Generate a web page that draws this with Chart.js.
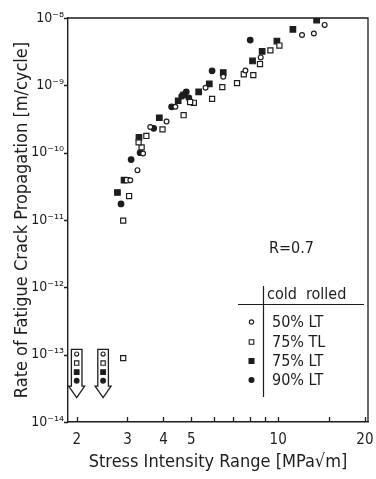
<!DOCTYPE html>
<html>
<head>
<meta charset="utf-8">
<script src="https://cdn.jsdelivr.net/npm/chart.js@4"></script>
<style>
  html, body { margin: 0; padding: 0; background: #fff; }
</style>
</head>
<body>
<canvas id="crackChart" width="376" height="479"></canvas>
<script>
const seriesLabels = ['50% LT', '75% TL', '75% LT', '90% LT'];

// stress intensity range [MPa√m] and crack growth rate [m/cycle]
const k50LT = [14.5, 13.3, 12.1, 8.7, 7.7, 6.45, 5.6, 4.4, 4.1, 3.6, 3.4, 3.25, 3.07];
const rate50LT = [7.9e-9, 5.9e-9, 5.6e-9, 2.6e-9, 1.66e-9, 1.34e-9, 9.2e-10, 4.8e-10, 2.9e-10, 2.4e-10, 9.7e-11, 5.5e-11, 3.9e-11];

const k75TL = [10.1, 9.4, 8.65, 8.2, 7.6, 7.2, 6.4, 5.9, 5.1, 4.95, 4.7, 3.97, 3.49, 3.36, 3.28, 3.04, 2.99, 2.9, 2.9];
const rate75TL = [3.9e-9, 3.3e-9, 2.07e-9, 1.42e-9, 1.46e-9, 1.08e-9, 9.4e-10, 6.3e-10, 5.5e-10, 5.65e-10, 3.6e-10, 2.22e-10, 1.77e-10, 1.2e-10, 1.42e-10, 2.27e-11, 3.9e-11, 9.8e-12, 8.9e-14];

const k75LT = [13.6, 11.25, 9.9, 8.8, 8.15, 6.45, 5.77, 5.3, 4.7, 4.5, 3.87, 3.29, 2.92, 2.77];
const rate75LT = [9.3e-9, 6.8e-9, 4.55e-9, 3.2e-9, 2.3e-9, 1.55e-9, 1.05e-9, 8.0e-10, 7.2e-10, 5.9e-10, 3.3e-10, 1.69e-10, 3.9e-11, 2.56e-11];

const k90LT = [8.0, 5.9, 4.9, 4.8, 4.63, 4.27, 3.7, 3.32, 3.09, 2.85];
const rate90LT = [4.7e-9, 1.64e-9, 6.5e-10, 8.0e-10, 6.9e-10, 4.8e-10, 2.3e-10, 1.0e-10, 7.9e-11, 1.73e-11];

// threshold arrows (no growth measured, below 1e-13)
const arrowK = [2.0, 2.47];
const arrowTop = 1.2e-13, arrowNeck = 3.4e-14, arrowTip = 2.3e-14;
const arrowRates = [1.02e-13, 7.5e-14, 5.5e-14, 4.1e-14];

const xTicks = [2, 3, 4, 5, 6, 7, 8, 9, 10, 15, 20];
const xLabels = [2, 3, 4, 5, 10, 20];
const yTicks = [1e-14, 1e-13, 1e-12, 1e-11, 1e-10, 1e-9, 1e-8];
const yLabels = ['10⁻¹⁴', '10⁻¹³', '10⁻¹²', '10⁻¹¹', '10⁻¹⁰', '10⁻⁹', '10⁻⁸'];

const ink = '#1d1d1d';
const family = '"DejaVu Sans Condensed", "DejaVu Sans", sans-serif';

const marks = [
    { pointStyle: 'circle', radius: 2.4, fill: '#fff' },
    { pointStyle: 'rect', radius: 3.6, fill: '#fff' },
    { pointStyle: 'rect', radius: 3.9, fill: ink },
    { pointStyle: 'circle', radius: 2.8, fill: ink }
];
const ks = [k50LT, k75TL, k75LT, k90LT];
const rates = [rate50LT, rate75TL, rate75LT, rate90LT];

const datasets = [];
seriesLabels.forEach((label, i) => {
    datasets.push({
        label: label,
        data: ks[i].map((k, j) => ({ x: k, y: rates[i][j] })),
        pointStyle: marks[i].pointStyle,
        pointRadius: marks[i].radius,
        pointBackgroundColor: marks[i].fill,
        pointBorderColor: ink,
        pointBorderWidth: 1.2,
        showLine: false
    });
});
// small markers stacked inside the arrows
seriesLabels.forEach((label, i) => {
    datasets.push({
        label: label + ' threshold',
        data: arrowK.map(k => ({ x: k, y: arrowRates[i] })),
        pointStyle: marks[i].pointStyle,
        pointRadius: marks[i].radius * 0.85,
        pointBackgroundColor: marks[i].fill,
        pointBorderColor: ink,
        pointBorderWidth: 1.1,
        showLine: false
    });
});

const decorations = {
    id: 'decorations',
    beforeDatasetsDraw(chart) {
        const { ctx, scales: { x, y } } = chart;
        ctx.save();
        ctx.strokeStyle = ink;
        ctx.fillStyle = '#fff';
        ctx.lineWidth = 1.3;
        arrowK.forEach(k => {
            const cx = x.getPixelForValue(k);
            const top = y.getPixelForValue(arrowTop);
            const neck = y.getPixelForValue(arrowNeck);
            const tip = y.getPixelForValue(arrowTip);
            ctx.beginPath();
            ctx.moveTo(cx - 5.3, top);
            ctx.lineTo(cx + 5.3, top);
            ctx.lineTo(cx + 5.3, neck);
            ctx.lineTo(cx + 8, neck);
            ctx.lineTo(cx, tip);
            ctx.lineTo(cx - 8, neck);
            ctx.lineTo(cx - 5.3, neck);
            ctx.closePath();
            ctx.fill();
            ctx.stroke();
        });
        ctx.restore();
    },
    afterDraw(chart) {
        const { ctx, chartArea: a, scales: { x, y } } = chart;
        ctx.save();
        ctx.strokeStyle = ink;
        ctx.lineWidth = 1.3;
        // top and right frame
        ctx.beginPath();
        ctx.moveTo(a.left, a.top);
        ctx.lineTo(a.right, a.top);
        ctx.lineTo(a.right, a.bottom);
        ctx.stroke();
        // x ticks point inward, y ticks outward
        ctx.beginPath();
        xTicks.forEach(v => {
            const px = Math.round(x.getPixelForValue(v)) + 0.5;
            ctx.moveTo(px, a.bottom);
            ctx.lineTo(px, a.bottom - 5);
        });
        yTicks.forEach(v => {
            const py = Math.round(y.getPixelForValue(v)) + 0.5;
            ctx.moveTo(a.left - 4, py);
            ctx.lineTo(a.left, py);
        });
        ctx.stroke();

        ctx.fillStyle = ink;
        ctx.textBaseline = 'middle';
        ctx.textAlign = 'left';
        ctx.font = '16px ' + family;
        ctx.fillText('R=0.7', 269, 249);

        // legend table
        ctx.lineWidth = 1.2;
        ctx.beginPath();
        ctx.moveTo(263.5, 286);
        ctx.lineTo(263.5, 397);
        ctx.moveTo(238, 304.5);
        ctx.lineTo(364, 304.5);
        ctx.stroke();
        ctx.font = '16px ' + family;
        ctx.fillText('cold  rolled', 267, 295);
        const rows = [322, 342, 361, 380];
        seriesLabels.forEach((label, i) => {
            ctx.fillStyle = marks[i].fill;
            ctx.strokeStyle = ink;
            ctx.lineWidth = 1.1;
            Chart.helpers.drawPoint(ctx, {
                pointStyle: marks[i].pointStyle,
                radius: marks[i].radius * 0.9,
                borderWidth: 1.1,
                rotation: 0
            }, 251.5, rows[i]);
            ctx.fillStyle = ink;
            ctx.fillText(label, 272, rows[i] + 1);
        });
        ctx.restore();
    }
};

new Chart(document.getElementById('crackChart'), {
    type: 'scatter',
    data: { datasets },
    options: {
        responsive: false,
        animation: false,
        layout: { padding: { top: 18, right: 8, left: 0, bottom: 0 } },
        plugins: { legend: { display: false }, tooltip: { enabled: false } },
        scales: {
            x: {
                type: 'logarithmic',
                bounds: 'data',
                min: 1.866,
                max: 20.5,
                afterFit(s) { s.height = 57; s.paddingLeft = 0; s.paddingRight = 0; },
                afterBuildTicks(s) { s.ticks = xTicks.map(v => ({ value: v })); },
                grid: { display: false, drawTicks: false },
                border: { display: true, color: ink, width: 1.4 },
                ticks: {
                    autoSkip: false, maxRotation: 0, padding: 9, color: ink,
                    font: { family, size: 15 },
                    callback: v => xLabels.includes(v) ? String(v) : ''
                },
                title: {
                    display: true, text: 'Stress Intensity Range [MPa√m]', color: ink,
                    font: { family, size: 18 }, padding: { top: 0, bottom: 6 }
                }
            },
            y: {
                type: 'logarithmic',
                bounds: 'data',
                min: 1e-14,
                max: 1e-8,
                afterFit(s) { s.width = 68; s.paddingTop = 0; s.paddingBottom = 0; },
                afterBuildTicks(s) { s.ticks = yTicks.map(v => ({ value: v })); },
                grid: { display: false, drawTicks: false },
                border: { display: true, color: ink, width: 1.4 },
                ticks: {
                    autoSkip: false, padding: 4, color: ink,
                    font: { family, size: 14 },
                    callback: v => yLabels[yTicks.indexOf(v)]
                },
                title: {
                    display: true, text: 'Rate of Fatigue Crack Propagation [m/cycle]', color: ink,
                    font: { family, size: 18 }, padding: { top: 12, bottom: 0 }
                }
            }
        }
    },
    plugins: [decorations]
});
</script>
</body>
</html>
